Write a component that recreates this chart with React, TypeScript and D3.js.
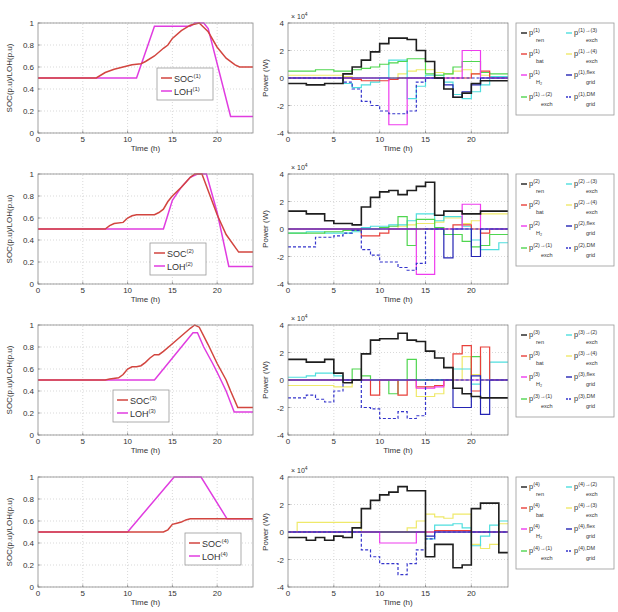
import React from "react";
import * as d3 from "d3";

// ---- ticks ----
const xTicks = [0, 5, 10, 15, 20];
const socTicks = [0, 0.2, 0.4, 0.6, 0.8, 1];
const powTicks = [-4, -2, 0, 2, 4];

// ---- SOC / LOH curves, [hour, p.u.] ----
const soc1 = [[0, 0.5], [6.5, 0.5], [7.5, 0.55], [8.5, 0.58], [9.5, 0.6], [10.5, 0.62], [11.5, 0.63], [12, 0.65], [13, 0.7], [14, 0.77], [14.5, 0.8], [15, 0.86], [16, 0.93], [17, 0.98], [18, 1.0], [19, 0.92], [20, 0.78], [21, 0.68], [22, 0.62], [22.5, 0.6], [24, 0.6]];
const loh1 = [[0, 0.5], [11, 0.5], [13, 0.97], [17, 0.97], [17.5, 1], [18.5, 1], [19, 0.95], [21.5, 0.15], [24, 0.15]];
const soc2 = [[0, 0.5], [7.5, 0.5], [8, 0.53], [8.5, 0.55], [9.5, 0.56], [10, 0.6], [10.5, 0.62], [11, 0.63], [13, 0.63], [13.5, 0.65], [14, 0.68], [14.5, 0.75], [15, 0.8], [16, 0.88], [17, 0.97], [17.5, 1.0], [18.3, 1.0], [20, 0.63], [21, 0.45], [22.4, 0.29], [24, 0.29]];
const loh2 = [[0, 0.5], [14, 0.5], [15, 0.76], [16, 0.88], [17, 0.97], [17.8, 1.0], [18.8, 1.0], [20, 0.65], [21.3, 0.16], [24, 0.16]];
const soc3 = [[0, 0.5], [7.5, 0.5], [8, 0.51], [9, 0.52], [9.5, 0.55], [10, 0.6], [10.5, 0.62], [11, 0.62], [11.5, 0.63], [12, 0.66], [12.5, 0.7], [13, 0.73], [13.5, 0.73], [14, 0.76], [15, 0.83], [16, 0.9], [17, 0.97], [17.5, 1.0], [18, 0.98], [19, 0.82], [20, 0.65], [21, 0.5], [21.5, 0.4], [22.3, 0.25], [24, 0.25]];
const loh3 = [[0, 0.5], [13, 0.5], [17.3, 0.93], [17.8, 0.93], [18.5, 0.8], [19.5, 0.65], [20, 0.57], [21, 0.4], [21.9, 0.21], [24, 0.21]];
const soc4 = [[0, 0.5], [14, 0.5], [14.5, 0.52], [15, 0.57], [15.5, 0.58], [16, 0.59], [16.5, 0.61], [17, 0.62], [24, 0.62]];
const loh4 = [[0, 0.5], [10, 0.5], [15.2, 1.0], [18.2, 1.0], [21.1, 0.62], [24, 0.62]];

// ---- power, x10^4 W, one value per hour ----
const ren1 = [-0.4, -0.4, -0.5, -0.5, -0.4, -0.4, 0.3, 0.8, 1.3, 1.9, 2.5, 2.9, 2.9, 2.8, 2.0, 1.2, 0.0, -0.8, -1.4, -1.1, -0.4, -0.2, -0.2, -0.2];
const bat1 = [0, 0, 0, 0, 0, 0, 0, -0.1, -0.2, -0.2, -0.2, -0.1, 0, 0, 0, 0, 0, 0, 0, 0, 0.3, 0.5, 0, 0];
const hyd1 = [0, 0, 0, 0, 0, 0, 0, 0, 0, 0, 0, -3.4, -3.4, 0, 0, 0, 0, 0, 0, 2.0, 2.0, 0, 0, 0];
const exA1 = [0.5, 0.5, 0.5, 0.6, 0.6, 0.5, 0.5, 0.6, 0.7, 0.8, 1.0, 1.1, 1.2, 1.4, 1.4, 0.3, 0.2, 0.3, 0.8, 1.2, 1.2, 0.4, 0.3, 0.3];
const exB1 = [0, 0, 0, 0, 0, 0, -0.4, -0.7, -0.5, -0.3, 0, 1.3, 1.3, -1.5, -0.6, 0.2, 0.2, -0.3, -1.2, -1.5, -1.0, -0.5, 0.1, 0.1];
const exC1 = [0.2, 0.2, 0.2, 0.2, 0.2, 0.2, 0.1, 0, 0, 0, 0, 0, 0.3, 0.5, 0.6, 0.6, 0.4, 0.3, 0.5, 0.6, 0.3, 0.2, 0.1, 0.1];
const flex1 = [0, 0, 0, 0, 0, 0, 0, 0, 0, 0, 0, 0, 0, 0, 0, 0, 0, -0.5, -1.4, -1.0, -0.5, 0, 0, 0];
const dm1 = [0, 0, 0, 0, 0, 0, -0.3, -0.8, -1.7, -2.0, -2.4, -2.6, -2.6, -2.4, -0.3, 0, 0, 0, 0, 0, 0, 0, 0, 0];

const ren2 = [1.3, 1.3, 1.1, 1.1, 0.6, 0.4, 0.4, 0.3, 1.6, 2.3, 2.7, 2.8, 2.5, 2.8, 3.1, 3.4, 1.0, 1.3, 1.3, 1.1, 1.1, 1.3, 1.3, 1.3];
const bat2 = [0, 0, 0, 0, 0, 0, 0, 0, -0.5, -0.5, -0.3, 0, 0, 0, 0, 0, 0, 0, 0.3, 0.3, 0, -0.3, 0, 0];
const hyd2 = [0, 0, 0, 0, 0, 0, 0, 0, 0, 0, 0, 0, 0, 0, -3.3, -3.3, 0, 0, 0, 1.8, 1.8, 0, 0, 0];
const exA2 = [-0.3, -0.3, -0.3, -0.3, -0.2, -0.2, -0.1, -0.1, 0, 0, 0.1, 0.2, 0.9, -1.2, 0.7, 0.7, 0.1, -0.4, -0.4, -0.9, -1.3, -1.2, -0.4, -0.4];
const exB2 = [-0.3, -0.3, -0.2, -0.2, -0.3, -0.3, -0.3, -0.2, 0.1, 0.2, 0.2, 0.3, 0.3, 0.6, 1.1, 1.1, 0.6, 0.9, 0.9, 0.2, -0.8, -1.5, -1.5, -1.0];
const exC2 = [0, 0, 0, 0, 0, 0, 0, 0, 0, 0, 0, 0, 0.2, 0.3, 0.4, 0.4, 0.5, 0.8, 0.8, 0.4, 0.6, 1.1, 1.1, 1.1];
const flex2 = [0, 0, 0, 0, 0, 0, 0, 0, 0, 0, 0, 0, 0, 0, 0, 0, 0, -2.1, 0, 0, -2.0, 0, 0, 0];
const dm2 = [-1.3, -1.3, -1.3, -0.6, -0.6, -0.5, -0.3, -0.1, -1.5, -1.9, -2.4, -2.4, -2.8, -3.0, -2.5, 0, 0, 0, 0, 0, 0, 0, 0, 0];

const ren3 = [1.5, 1.5, 1.3, 1.3, 1.5, 0.5, -0.2, 0.0, 1.9, 2.9, 3.0, 3.0, 3.4, 2.9, 2.8, 2.1, 1.6, 0.9, -0.6, -1.0, -1.2, -1.3, -1.3, -1.3];
const bat3 = [0, 0, 0, 0, 0, 0, 0, 0, 0, -1.1, 0, 0, -1.1, 0, -0.5, -0.5, -0.4, 0, 1.9, 2.5, -0.8, 2.4, 0, 0];
const hyd3 = [0, 0, 0, 0, 0, 0, 0, 0, 0, 0, 0, 0, 0, 0, -0.6, -0.6, -0.5, 0, 0, 0, 0, 0, 0, 0];
const exA3 = [0, 0, 0, 0, 0, 0, 0, 0.8, 0.3, 0, 0, -1.0, 0, 1.5, 0, 0, 0, 0, 0, 0, 1.7, 0, 0, 0];
const exB3 = [0.2, 0.2, 0.3, 0.5, 0.5, 0.3, 0, 0, 0, 0, 0, 0, 0, 0, 0, 0, 0, 0, 0.8, 0.8, -0.3, 0, 1.3, 1.3];
const exC3 = [-0.4, -0.4, -0.4, -0.4, -0.4, -0.5, -0.5, 0, 0, 0, 0, 0, 0, 0, -1.2, -1.2, -1.0, 0, 0, 1.7, 0.4, 0, 0, 0];
const flex3 = [0, 0, 0, 0, 0, 0, 0, 0, 0, 0, 0, 0, 0, 0, 0, 0, 0, 0, -2.0, -2.0, 0.3, -2.5, 0, 0];
const dm3 = [-1.3, -1.3, -1.1, -1.4, -1.6, -0.8, 0, 0, -2.0, -2.1, -2.8, -2.8, -2.3, -2.8, -2.6, 0, 0, 0, 0, 0, 0, 0, 0, 0];

const ren4 = [-0.4, -0.4, -0.6, -0.4, -0.6, -0.3, -0.4, 0.3, 1.7, 2.3, 2.7, 2.9, 3.3, 3.0, 3.0, -1.8, -0.9, -0.9, -2.6, -2.4, 1.7, 2.1, 2.1, -1.5];
const bat4 = [0, 0, 0, 0, 0, 0, 0, 0, 0, 0, 0, 0, 0, 0, 0, 0, 0.1, 0.1, 0.1, 0.1, 0, 0, 0, 0];
const hyd4 = [0, 0, 0, 0, 0, 0, 0, 0, 0, 0, -0.8, -0.8, -0.8, -0.8, 0, 0, 0, 0, 0, 0, 0, 0, 0, 0];
const exA4 = [0, 0, 0, 0, 0, 0, 0, 0, 0, 0, 0, 0, 0, 0, 0, 0, 0, 0, 0, 0, 0, 0, 0, 0];
const exB4 = [0, 0, 0, 0, 0, 0, 0, 0, 0, 0, 0, 0, 0, 0, 0, -0.5, 0.5, 0.5, 0.6, 0.3, -1.0, -0.3, 0.5, 0.8];
const exC4 = [0, 0.7, 0.7, 0.7, 0.7, 0.7, 0.7, 0.7, 0, 0, 0, 0, 0, 0.3, 0.8, 1.3, 1.1, 1.0, 1.3, 1.3, -0.9, -1.2, -0.9, 0.6];
const flex4 = [0, 0, 0, 0, 0, 0, 0, 0, 0, 0, 0, 0, 0, 0, 0, -0.3, 0, 0, 0, 0, 0, 0, 0, 0];
const dm4 = [0, 0, 0, 0, 0, 0, 0, 0, -1.3, -1.8, -2.3, -2.3, -3.1, -2.3, -1.3, -0.5, 0, 0, 0, 0, 0, 0, 0, 0];

const exchLabels = [
  ["(1)→(2)", "(1)→(3)", "(1)→(4)"],
  ["(2)→(1)", "(2)→(3)", "(2)→(4)"],
  ["(3)→(1)", "(3)→(2)", "(3)→(4)"],
  ["(4)→(1)", "(4)→(2)", "(4)→(3)"],
];

const rows = [
  { soc: soc1, loh: loh1, power: [ren1, bat1, hyd1, exA1, exB1, exC1, flex1, dm1] },
  { soc: soc2, loh: loh2, power: [ren2, bat2, hyd2, exA2, exB2, exC2, flex2, dm2] },
  { soc: soc3, loh: loh3, power: [ren3, bat3, hyd3, exA3, exB3, exC3, flex3, dm3] },
  { soc: soc4, loh: loh4, power: [ren4, bat4, hyd4, exA4, exB4, exC4, flex4, dm4] },
];

// ---- layout / style ----
const rowTop = [23, 174, 325, 477];
const plotH = 110;
const leftX = [38, 253];
const rightX = [288, 508];
const socLegendPos = [[157, 68], [150, 243], [113, 390], [185, 533]];
const FONT = "Liberation Sans, Arial, sans-serif";
const socColor = "#d2453f";
const lohColor = "#e03ce0";
// ren, bat, H2, exA, exB, exC, flex, DM
const powColors = ["#1e1e1e", "#e8403a", "#ee3cee", "#4fd64f", "#4fdede", "#efe96a", "#2424b4", "#3535cc"];
const drawOrder = [5, 4, 3, 1, 2, 6, 7, 0];

function Grid({ x, y, xt, yt }) {
  const [x0, x1] = x.range();
  const [y0, y1] = y.range();
  return (
    <g stroke="#c8c8c8" strokeWidth={0.7} strokeDasharray="1,2">
      {xt.filter((t) => t > 0).map((t) => (
        <line key={"x" + t} x1={x(t)} x2={x(t)} y1={y0} y2={y1} />
      ))}
      {yt.map((t) => (
        <line key={"y" + t} x1={x0} x2={x1} y1={y(t)} y2={y(t)} />
      ))}
    </g>
  );
}

function Axes({ x, y, xt, yt, fmt }) {
  const [x0, x1] = x.range();
  const [yb, yTop] = y.range();
  return (
    <g fontFamily={FONT} fontSize={8} fill="#333">
      <rect x={x0} y={yTop} width={x1 - x0} height={yb - yTop} fill="none" stroke="#8a8a8a" strokeWidth={0.8} />
      {xt.map((t) => (
        <g key={"xt" + t}>
          <line x1={x(t)} x2={x(t)} y1={yb} y2={yb - 2.5} stroke="#666" strokeWidth={0.6} />
          <text x={x(t)} y={yb + 9} textAnchor="middle">{t}</text>
        </g>
      ))}
      {yt.map((t) => (
        <g key={"yt" + t}>
          <line x1={x0} x2={x0 + 2.5} y1={y(t)} y2={y(t)} stroke="#666" strokeWidth={0.6} />
          <text x={x0 - 4} y={y(t) + 3} textAnchor="end">{fmt(t)}</text>
        </g>
      ))}
      <text x={(x0 + x1) / 2} y={yb + 18} textAnchor="middle">Time (h)</text>
    </g>
  );
}

function SocPanel({ top, soc, loh, n, legend }) {
  const x = d3.scaleLinear().domain([0, 24]).range(leftX);
  const y = d3.scaleLinear().domain([0, 1]).range([top + plotH, top]);
  const line = d3.line<number[]>().x((d) => x(d[0])).y((d) => y(d[1]));
  const [lx, ly] = legend;
  return (
    <g>
      <Grid x={x} y={y} xt={xTicks} yt={socTicks} />
      <path d={line(loh) || ""} fill="none" stroke={lohColor} strokeWidth={1.5} />
      <path d={line(soc) || ""} fill="none" stroke={socColor} strokeWidth={1.5} />
      <Axes x={x} y={y} xt={xTicks} yt={socTicks} fmt={(t) => String(+t.toFixed(1))} />
      <text
        transform={`translate(12,${top + plotH / 2}) rotate(-90)`}
        textAnchor="middle"
        fontFamily={FONT}
        fontSize={8}
        fill="#333"
      >
        SOC(p.u)/LOH(p.u)
      </text>
      <g fontFamily={FONT} fill="#333">
        <rect x={lx} y={ly} width={56} height={32} fill="#fff" stroke="#9a9a9a" strokeWidth={0.8} />
        {[["SOC", socColor], ["LOH", lohColor]].map(([lab, c], i) => (
          <g key={lab}>
            <line x1={lx + 4} x2={lx + 15} y1={ly + 10 + i * 13} y2={ly + 10 + i * 13} stroke={c} strokeWidth={1.5} />
            <text x={lx + 17} y={ly + 13.5 + i * 13} fontSize={9}>
              {lab}
              <tspan dy={-4} fontSize={6}>{`(${n})`}</tspan>
            </text>
          </g>
        ))}
      </g>
    </g>
  );
}

function PowerPanel({ top, power }) {
  const x = d3.scaleLinear().domain([0, 24]).range(rightX);
  const y = d3.scaleLinear().domain([-4, 4]).range([top + plotH, top]);
  const line = d3
    .line<number>()
    .x((d, i) => x(i))
    .y((d) => y(d))
    .curve(d3.curveStepAfter);
  return (
    <g>
      <Grid x={x} y={y} xt={xTicks} yt={powTicks} />
      {drawOrder.map((k) => {
        const vals = power[k];
        return (
          <path
            key={k}
            d={line(vals.concat(vals[vals.length - 1])) || ""}
            fill="none"
            stroke={powColors[k]}
            strokeWidth={k === 0 ? 1.6 : 1.2}
            strokeDasharray={k === 7 ? "3,2" : undefined}
          />
        );
      })}
      <Axes x={x} y={y} xt={xTicks} yt={powTicks} fmt={(t) => String(t)} />
      <text x={rightX[0] + 3} y={top - 4} fontFamily={FONT} fontSize={7} fill="#333">
        × 10<tspan dy={-3} fontSize={5}>4</tspan>
      </text>
      <text
        transform={`translate(268,${top + plotH / 2}) rotate(-90)`}
        textAnchor="middle"
        fontFamily={FONT}
        fontSize={8}
        fill="#333"
      >
        Power (W)
      </text>
    </g>
  );
}

function PowerLegend({ top, n, exch }) {
  const left = 516;
  const entries = [
    { k: 0, sup: `(${n})`, sub: "ren" },
    { k: 1, sup: `(${n})`, sub: "bat" },
    { k: 2, sup: `(${n})`, sub: "H₂" },
    { k: 3, sup: exch[0], sub: "exch" },
    { k: 4, sup: exch[1], sub: "exch" },
    { k: 5, sup: exch[2], sub: "exch" },
    { k: 6, sup: `(${n}),flex`, sub: "grid" },
    { k: 7, sup: `(${n}),DM`, sub: "grid" },
  ];
  const rowY = [10, 31, 52, 74];
  return (
    <g fontFamily={FONT} fill="#333">
      <rect x={left} y={top} width={98} height={92} fill="#fff" stroke="#9a9a9a" strokeWidth={0.8} />
      {entries.map((e, i) => {
        const col = i < 4 ? 0 : 1;
        const ey = top + rowY[i % 4];
        const sx = left + (col === 0 ? 5 : 50);
        const tx = sx + 8;
        const long = e.sup.length > 4;
        return (
          <g key={i}>
            <line
              x1={sx}
              x2={sx + 6}
              y1={ey}
              y2={ey}
              stroke={powColors[e.k]}
              strokeWidth={1.4}
              strokeDasharray={e.k === 7 ? "2,1" : undefined}
            />
            <text x={tx} y={ey + 2} fontSize={7.5}>
              p<tspan dy={-3} fontSize={5.5}>{e.sup}</tspan>
            </text>
            <text x={tx + (long ? 12 : 7)} y={ey + 9} fontSize={5.5}>{e.sub}</text>
          </g>
        );
      })}
    </g>
  );
}

export default function App() {
  return (
    <svg width={618} height={612} style={{ position: "absolute", left: 0, top: 0, background: "#fff" }}>
      <rect width={618} height={612} fill="#fff" />
      {rows.map((r, i) => (
        <g key={i}>
          <SocPanel top={rowTop[i]} soc={r.soc} loh={r.loh} n={i + 1} legend={socLegendPos[i]} />
          <PowerPanel top={rowTop[i]} power={r.power} />
          <PowerLegend top={rowTop[i]} n={i + 1} exch={exchLabels[i]} />
        </g>
      ))}
    </svg>
  );
}
